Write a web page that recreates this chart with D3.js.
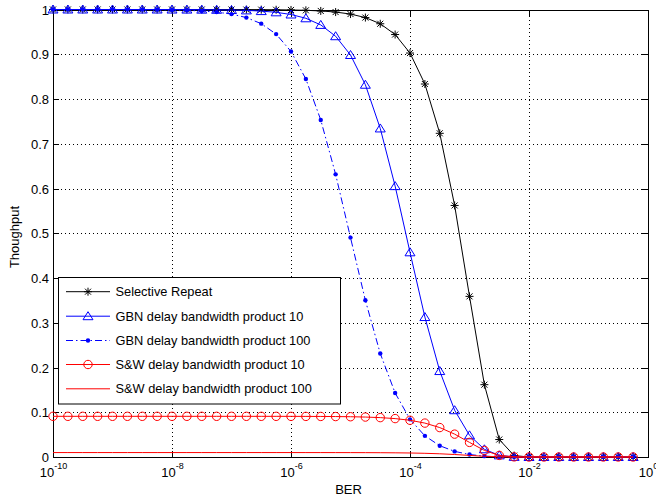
<!DOCTYPE html>
<html><head><meta charset="utf-8">
<script src="https://cdn.jsdelivr.net/npm/d3@7"></script>
<style>
body{margin:0;background:#fff}
svg{display:block}
text{font-family:"Liberation Sans",Arial,Helvetica,sans-serif;fill:#000}
</style>
</head><body>
<svg id="c" width="656" height="498"></svg>
<script>
// ---- data ----
const berExp = [-10,-9.75,-9.5,-9.25,-9,-8.75,-8.5,-8.25,-8,-7.75,-7.5,-7.25,-7,-6.75,-6.5,-6.25,-6,-5.75,-5.5,-5.25,-5,-4.75,-4.5,-4.25,-4,-3.75,-3.5,-3.25,-3,-2.75,-2.5,-2.25,-2,-1.75,-1.5,-1.25,-1,-0.75,-0.5,-0.25];
const srVals = [1,1,1,1,1,1,1,1,1,0.99998,0.99997,0.99994,0.9999,0.99982,0.99968,0.99942,0.99898,0.99818,0.99677,0.99426,0.98981,0.98196,0.96814,0.94404,0.90266,0.83351,0.72334,0.56214,0.35897,0.16161,0.03904,0.00311,0.00003,0,0,0,0,0,0,0];
const gbn10Vals = [1,1,1,0.99999,0.99999,0.99998,0.99996,0.99994,0.99989,0.9998,0.99964,0.99937,0.99887,0.998,0.99645,0.9937,0.98886,0.98035,0.96555,0.94027,0.89829,0.83185,0.7342,0.60531,0.45741,0.31277,0.19204,0.10452,0.04844,0.01722,0.00368,0.00028,0,0,0,0,0,0,0,0];
const gbn100Vals = [0.99999,0.99998,0.99997,0.99994,0.9999,0.99982,0.99967,0.99942,0.99897,0.99816,0.99674,0.99422,0.98976,0.98194,0.96833,0.94501,0.90627,0.84456,0.75324,0.6316,0.4903,0.35014,0.23127,0.14313,0.08409,0.04723,0.02523,0.01255,0.00551,0.00191,0.0004,0.00003,0,0,0,0,0,0,0,0];
const sw10Vals = [0.09091,0.09091,0.09091,0.09091,0.09091,0.09091,0.09091,0.09091,0.09091,0.09091,0.09091,0.09091,0.0909,0.09089,0.09088,0.09086,0.09082,0.09074,0.09062,0.09039,0.08998,0.08927,0.08801,0.08582,0.08206,0.07577,0.06576,0.0511,0.03263,0.01469,0.00355,0.00028,0,0,0,0,0,0,0,0];
const sw100Vals = [0.0099,0.0099,0.0099,0.0099,0.0099,0.0099,0.0099,0.0099,0.0099,0.0099,0.0099,0.0099,0.0099,0.0099,0.0099,0.0099,0.00989,0.00988,0.00987,0.00984,0.0098,0.00972,0.00959,0.00935,0.00894,0.00825,0.00716,0.00557,0.00355,0.0016,0.00039,0.00003,0,0,0,0,0,0,0,0];
const seriesNames = ["Selective Repeat","GBN delay bandwidth product 10","GBN delay bandwidth product 100","S&W delay bandwidth product 10","S&W delay bandwidth product 100"];
const xTickExp = [-10,-8,-6,-4,-2,0];
const yTicks = [0,0.1,0.2,0.3,0.4,0.5,0.6,0.7,0.8,0.9,1];
const yTickLabels = ["0","0.1","0.2","0.3","0.4","0.5","0.6","0.7","0.8","0.9","1"];
const xTitle = "BER";
const yTitle = "Thoughput";

// ---- layout ----
const L = 53, R = 648, T = 9.5, B = 457;
const svg = d3.select("#c");
const x = d3.scaleLog().domain([1e-10, 1]).range([L, R]);
const y = d3.scaleLinear().domain([0, 1]).range([B, T]);
const ber = berExp.map(e => Math.pow(10, e));

// grid
const gridY = svg.append("g").attr("transform", `translate(${L},0)`)
  .call(d3.axisLeft(y).tickValues(yTicks.slice(1, -1)).tickSize(-(R - L)).tickFormat(""));
gridY.select(".domain").remove();
gridY.selectAll("line").attr("stroke", "#000").attr("stroke-dasharray", "1,3").attr("shape-rendering", "crispEdges");

const gridX = svg.append("g").attr("transform", `translate(0,${B})`)
  .call(d3.axisBottom(x).tickValues(xTickExp.slice(1, -1).map(e => Math.pow(10, e))).tickSize(-(B - T)).tickFormat(""));
gridX.select(".domain").remove();
gridX.selectAll("line").attr("stroke", "#000").attr("stroke-dasharray", "1,3").attr("shape-rendering", "crispEdges");

// axes with inside ticks
const tickVals = xTickExp.map(e => Math.pow(10, e));
function styleAxis(g) {
  g.selectAll("path,line").attr("stroke", "#000").attr("shape-rendering", "crispEdges");
  g.select(".domain").attr("stroke", "#000");
}
const axL = svg.append("g").attr("transform", `translate(${L},0)`)
  .call(d3.axisLeft(y).tickValues(yTicks).tickSizeInner(-6).tickSizeOuter(0).tickPadding(5)
    .tickFormat((d, i) => yTickLabels[i]));
styleAxis(axL);
axL.selectAll("text").attr("font-size", 13).attr("x", -4).attr("dy", "0.36em");

const axR = svg.append("g").attr("transform", `translate(${R},0)`)
  .call(d3.axisRight(y).tickValues(yTicks).tickSizeInner(-6).tickSizeOuter(0).tickFormat(""));
styleAxis(axR);

const axB = svg.append("g").attr("transform", `translate(0,${B})`)
  .call(d3.axisBottom(x).tickValues(tickVals).tickSizeInner(-6).tickSizeOuter(0).tickFormat(""));
styleAxis(axB);
axB.selectAll(".tick").each(function(d, i) {
  const t = d3.select(this).append("text").attr("text-anchor", "middle").attr("y", 20).attr("font-size", 13);
  t.append("tspan").text("10");
  t.append("tspan").attr("dy", -8).attr("font-size", 9).text(String(xTickExp[i]));
});

const axT = svg.append("g").attr("transform", `translate(0,${T})`)
  .call(d3.axisTop(x).tickValues(tickVals).tickSizeInner(-6).tickSizeOuter(0).tickFormat(""));
styleAxis(axT);

// titles
svg.append("text").attr("x", (L + R) / 2 - 2).attr("y", 494).attr("text-anchor", "middle").attr("font-size", 13).text(xTitle);
svg.append("text").attr("transform", `translate(19,${237}) rotate(-90)`).attr("text-anchor", "middle").attr("font-size", 13).text(yTitle);

// ---- series ----
const series = [
  {vals: srVals, color: "#000", dash: null, marker: "star"},
  {vals: gbn10Vals, color: "#0000ff", dash: null, marker: "tri"},
  {vals: gbn100Vals, color: "#0000ff", dash: "7,3,1.5,3", marker: "dot"},
  {vals: sw10Vals, color: "#ff0000", dash: null, marker: "circle"},
  {vals: sw100Vals, color: "#ff0000", dash: null, marker: null}
];
const line = d3.line().x((d, i) => x(ber[i])).y(d => y(d));

function drawMarker(g, type, color) {
  if (type === "star") {
    g.append("path").attr("d", "M-4,0H4M0,-4V4M-3,-3L3,3M-3,3L3,-3").attr("stroke", color).attr("stroke-width", 1).attr("fill", "none");
  } else if (type === "tri") {
    g.append("path").attr("d", "M0,-4.5L5,3.5L-5,3.5Z").attr("stroke", color).attr("stroke-width", 1).attr("fill", "none");
  } else if (type === "dot") {
    g.append("circle").attr("r", 2.2).attr("fill", color);
  } else if (type === "circle") {
    g.append("circle").attr("r", 4.2).attr("stroke", color).attr("stroke-width", 1).attr("fill", "none");
  }
}

const plot = svg.append("g");
series.forEach(s => {
  plot.append("path").attr("d", line(s.vals)).attr("fill", "none").attr("stroke", s.color)
    .attr("stroke-width", 1).attr("stroke-dasharray", s.dash);
  if (s.marker) {
    s.vals.forEach((v, i) => {
      const g = plot.append("g").attr("transform", `translate(${x(ber[i])},${y(v)})`);
      drawMarker(g, s.marker, s.color);
    });
  }
});

// ---- legend ----
const lg = svg.append("g");
lg.append("rect").attr("x", 58.5).attr("y", 277.5).attr("width", 282).attr("height", 126.5)
  .attr("fill", "#fff").attr("stroke", "#000").attr("stroke-width", 1);
const rowY = [291.7, 316.2, 340.5, 364.5, 388.8];
series.forEach((s, i) => {
  lg.append("line").attr("x1", 66).attr("x2", 110).attr("y1", rowY[i]).attr("y2", rowY[i])
    .attr("stroke", s.color).attr("stroke-width", 1).attr("stroke-dasharray", s.dash);
  if (s.marker) drawMarker(lg.append("g").attr("transform", `translate(88,${rowY[i]})`), s.marker, s.color);
  lg.append("text").attr("x", 115.5).attr("y", rowY[i]).attr("dy", "0.36em").attr("font-size", 12.8).text(seriesNames[i]);
});
</script>
</body></html>
